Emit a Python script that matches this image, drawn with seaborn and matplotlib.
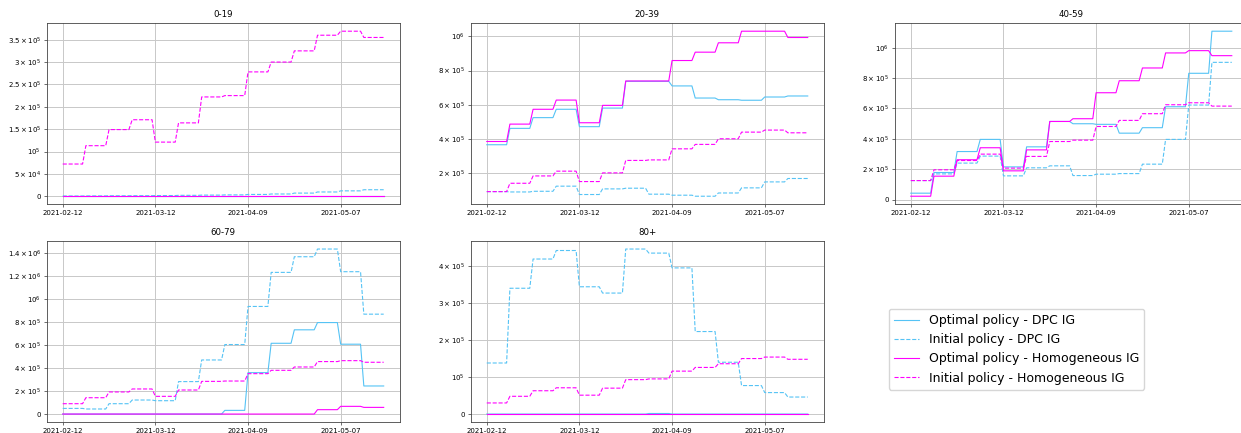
import numpy as np
import pandas as pd
import seaborn as sns
import matplotlib
matplotlib.use("Agg")
import matplotlib.pyplot as plt
import matplotlib.dates as mdates
from matplotlib.ticker import FuncFormatter

# ================== data (weekly values, in thousands) ==================
start_date = "2021-02-12"
n_weeks = 14
age_groups = ["0-19", "20-39", "40-59", "60-79", "80+"]
series_names = [
    "Optimal policy - DPC IG",
    "Initial policy - DPC IG",
    "Optimal policy - Homogeneous IG",
    "Initial policy - Homogeneous IG",
]

# 0-19
g0_opt_dpc = [0, 0, 0, 0, 0, 0, 0, 0, 0, 0, 0, 0, 0, 0]
g0_init_dpc = [0.5, 0.7, 1, 1.2, 1.5, 2, 2.5, 3, 4, 5, 7, 9.5, 12, 14.5]
g0_opt_hom = [0, 0, 0, 0, 0, 0, 0, 0, 0, 0, 0, 0, 0, 0]
g0_init_hom = [72, 113, 149, 171, 121, 164, 222, 225, 278, 300, 325, 360, 369, 355]

# 20-39
g1_opt_dpc = [365, 461, 524, 573, 471, 580, 737, 737, 710, 639, 629, 626, 645, 651]
g1_init_dpc = [90, 88, 92, 122, 73, 106, 110, 75, 69, 63, 82, 112, 147, 167]
g1_opt_hom = [384, 486, 573, 627, 494, 596, 739, 739, 859, 908, 963, 1031, 1031, 994]
g1_init_hom = [90, 139, 182, 210, 149, 200, 273, 276, 341, 367, 400, 439, 451, 435]

# 40-59
g2_opt_dpc = [42, 178, 316, 396, 215, 347, 514, 499, 495, 437, 473, 611, 831, 1108]
g2_init_dpc = [125, 169, 240, 286, 156, 209, 222, 158, 167, 171, 233, 396, 622, 903]
g2_opt_hom = [22, 154, 262, 341, 189, 327, 514, 532, 703, 782, 866, 965, 980, 947]
g2_init_hom = [125, 196, 257, 299, 207, 284, 382, 391, 481, 521, 565, 624, 637, 615]

# 60-79
g3_opt_dpc = [0, 0, 0, 0, 0, 0, 0, 32, 360, 615, 732, 795, 607, 244]
g3_init_dpc = [49, 44, 90, 122, 116, 282, 470, 604, 935, 1231, 1367, 1434, 1237, 868]
g3_opt_hom = [0, 0, 0, 0, 0, 0, 0, 0, 0, 0, 0, 38, 67, 58]
g3_init_hom = [90, 142, 192, 218, 154, 209, 284, 287, 351, 380, 409, 456, 464, 450]

# 80+
g4_opt_dpc = [0, 0, 0, 0, 0, 0, 0, 1.5, 0, 0, 0, 0, 0, 0]
g4_init_dpc = [138, 340, 419, 442, 344, 327, 446, 435, 395, 223, 140, 77, 58, 46]
g4_opt_hom = [0, 0, 0, 0, 0, 0, 0, 0, 0, 0, 0, 0, 0, 0]
g4_init_hom = [30, 48, 63, 71, 51, 70, 93, 95, 116, 126, 136, 150, 154, 148]

group_series = [
    [g0_opt_dpc, g0_init_dpc, g0_opt_hom, g0_init_hom],
    [g1_opt_dpc, g1_init_dpc, g1_opt_hom, g1_init_hom],
    [g2_opt_dpc, g2_init_dpc, g2_opt_hom, g2_init_hom],
    [g3_opt_dpc, g3_init_dpc, g3_opt_hom, g3_init_hom],
    [g4_opt_dpc, g4_init_dpc, g4_opt_hom, g4_init_hom],
]

# ================== styles ==================
blue = "#55c3f5"
magenta = "#ff00ff"
palette = dict(zip(series_names, [blue, blue, magenta, magenta]))
dash_map = dict(zip(series_names, ["", (3.7, 1.6), "", (3.7, 1.6)]))

# daily dates, value constant through each week
dates = pd.date_range(start_date, periods=n_weeks * 7, freq="D")


def sci_fmt(v, pos):
    if v == 0:
        return "0"
    sign = "-" if v < 0 else ""
    v = abs(v)
    exp = int(np.floor(np.log10(v) + 1e-9))
    coeff = v / 10 ** exp
    if abs(coeff - 1) < 1e-6:
        return r"$%s10^{%d}$" % (sign, exp)
    return r"$%s%g\times10^{%d}$" % (sign, round(coeff, 2), exp)


plt.rcParams["font.family"] = ["DejaVu Sans"]
fig, axes = plt.subplots(2, 3, figsize=(12.41, 4.33), dpi=100)
fig.subplots_adjust(left=0.0376, right=1.0055, bottom=0.0247, top=0.947,
                    wspace=0.201, hspace=0.2)

handles, labels = None, None
for i, (group, series) in enumerate(zip(age_groups, group_series)):
    ax = axes.flat[i]
    frames = []
    for name, weekly in zip(series_names, series):
        frames.append(pd.DataFrame({
            "date": dates,
            "value": np.repeat(weekly, 7) * 1000.0,
            "series": name,
        }))
    df = pd.concat(frames, ignore_index=True)

    sns.lineplot(
        data=df, x="date", y="value",
        hue="series", style="series",
        hue_order=series_names, style_order=series_names,
        palette=palette, dashes=dash_map,
        estimator=None, linewidth=0.8, ax=ax, legend=True,
    )
    if handles is None:
        handles, labels = ax.get_legend_handles_labels()
    ax.get_legend().remove()

    ax.set_title(group, fontsize=6.2, pad=4)
    ax.set_xlabel("")
    ax.set_ylabel("")
    ax.set_xticks(dates[::28])
    ax.xaxis.set_major_formatter(mdates.DateFormatter("%Y-%m-%d"))
    ax.yaxis.set_major_formatter(FuncFormatter(sci_fmt))
    ax.tick_params(labelsize=5, length=2, width=0.4, pad=2)
    ax.grid(True, color="#c8c8c8", linewidth=0.7)
    ax.set_axisbelow(True)
    for sp in ax.spines.values():
        sp.set_linewidth(0.6)
        sp.set_color("#444444")

axes[1, 2].axis("off")

leg = fig.legend(handles, labels, loc="upper left",
                 bbox_to_anchor=(0.7163, 0.2864), fontsize=9,
                 borderaxespad=0, frameon=True)
leg.get_frame().set_edgecolor("#cccccc")

fig.savefig("out.png", dpi=100)
